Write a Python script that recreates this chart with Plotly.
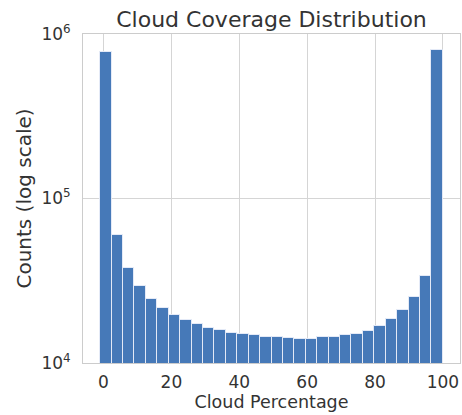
import numpy as np
import plotly.graph_objects as go

# Histogram of cloud percentage: 30 bins spanning -1 .. 100
bin_start = -1.0
bin_end = 100.0
n_bins = 30
counts = [
    780000, 60000, 37900, 29400, 24600, 21700, 19600, 18250, 17300, 16400,
    15900, 15300, 15100, 14700, 14400, 14300, 14100, 13900, 13900, 14450,
    14450, 14800, 15100, 15650, 16900, 18500, 21000, 25300, 33800, 800000,
]
x_ticks = [0, 20, 40, 60, 80, 100]
y_ticks = [1e4, 1e5, 1e6]
y_tick_text = ["10<sup>4</sup>", "10<sup>5</sup>", "10<sup>6</sup>"]

edges = np.linspace(bin_start, bin_end, n_bins + 1)
centers = (edges[:-1] + edges[1:]) / 2
width = edges[1] - edges[0]

text_color = "#333333"
grid_color = "#d5d5d5"
font_family = "DejaVu Sans"
hidden_tick = "rgba(0,0,0,0)"

fig = go.Figure(
    go.Bar(
        x=centers,
        y=counts,
        width=width,
        marker=dict(color="#4679b8", line=dict(color="rgba(235,240,250,0.9)", width=1)),
    )
)

span = bin_end - bin_start
fig.update_layout(
    width=462,
    height=415,
    margin=dict(l=83, r=2, t=34, b=52),
    paper_bgcolor="white",
    plot_bgcolor="white",
    showlegend=False,
    bargap=0,
    font=dict(family=font_family, color=text_color, size=17),
    title=dict(
        text="Cloud Coverage Distribution",
        x=(83 + 460) / 2 / 462,
        xanchor="center",
        y=1 - 19 / 415,
        yanchor="middle",
        font=dict(size=22, color=text_color),
    ),
    xaxis=dict(
        range=[bin_start - 0.05 * span, bin_end + 0.05 * span],
        tickvals=x_ticks,
        ticks="outside",
        ticklen=4,
        tickcolor=hidden_tick,
        showgrid=True,
        gridcolor=grid_color,
        gridwidth=1,
        zeroline=False,
        showline=True,
        mirror=True,
        linecolor="#cccccc",
        linewidth=1,
        tickfont=dict(size=17),
        title=dict(text="Cloud Percentage", font=dict(size=17.5), standoff=4),
    ),
    yaxis=dict(
        type="log",
        range=[4, 6],
        tickvals=y_ticks,
        ticktext=y_tick_text,
        ticks="outside",
        ticklen=8,
        tickcolor=hidden_tick,
        showgrid=True,
        gridcolor=grid_color,
        gridwidth=1,
        zeroline=False,
        showline=True,
        mirror=True,
        linecolor="#cccccc",
        linewidth=1,
        tickfont=dict(size=17),
        title=dict(text="Counts (log scale)", font=dict(size=20), standoff=4),
    ),
)

fig.write_html("out.html")
